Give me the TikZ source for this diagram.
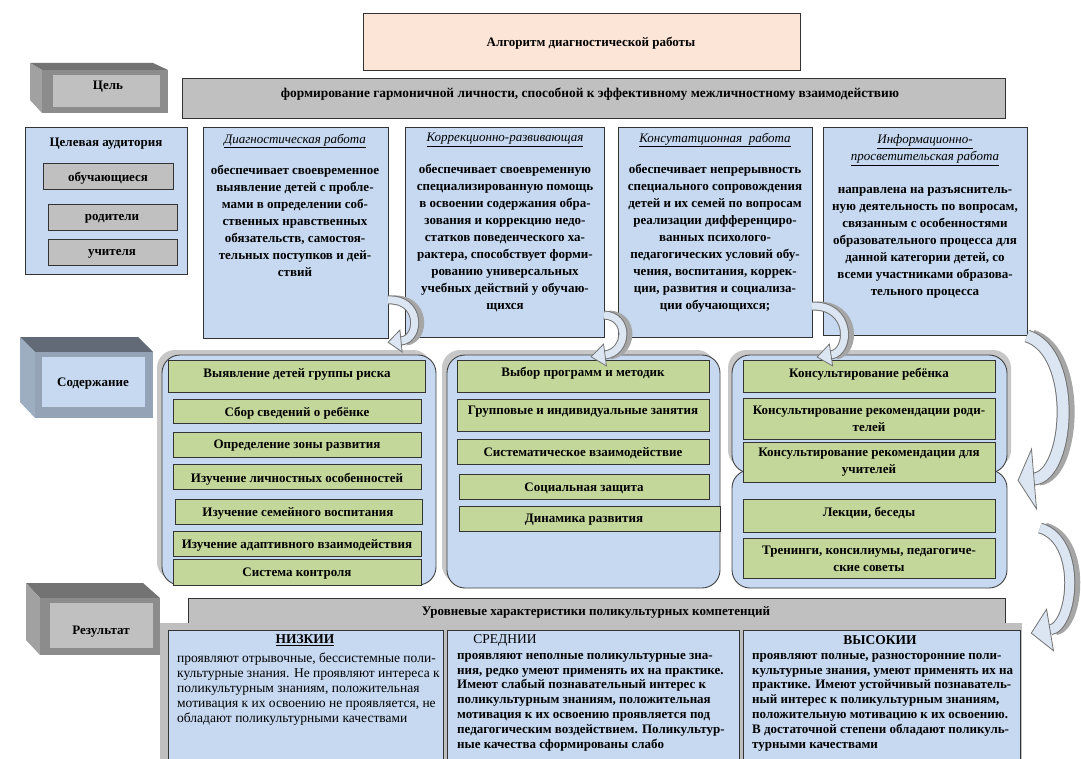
\documentclass[tikz,border=0pt]{standalone}
\usepackage{fontspec}
\setmainfont{Liberation Serif}
\usetikzlibrary{calc,positioning}

\definecolor{paleblue}{HTML}{C6D9F1}
\definecolor{leafgreen}{HTML}{C4D79B}
\definecolor{peach}{HTML}{FCE4D6}
\definecolor{bargray}{HTML}{C0C0C0}
\definecolor{shadegray}{HTML}{A6A6A6}
\definecolor{bandblue}{HTML}{DCE6F2}

\newcommand{\txtfont}{\fontsize{13}{17}\selectfont\bfseries}
\newcommand{\lowfont}{\fontsize{13.5}{14.8}\selectfont}

% box as an empty named node: name, style, x1, y1, x2, y2
\newcommand{\blk}[6]{\node[#2, minimum width={#5-#3}, minimum height={#6-#4}] (#1) at ({(#3+#5)/2},{(#4+#6)/2}) {};}

% curved block arrow: start, c1, c2, end, band width, head half width, head length
\newcommand{\bendarrow}[7]{%
  \draw[draw=shadegray, line width=#5] ([xshift=5]#1) .. controls ([xshift=5]#2) and ([xshift=5]#3) .. ([xshift=5]#4);
  \draw[draw=black!55, line width=#5] (#1) .. controls (#2) and (#3) .. (#4);
  \draw[draw=bandblue, line width={#5-2}] (#1) .. controls (#2) and (#3) .. (#4);
  \filldraw[fill=bandblue, draw=black!55, line width=0.8pt, line join=miter]
    ($(#4)!-#7pt!(#3)$) -- ($(#4)!#6pt!90:(#3)$) -- ($(#4)!#6pt!-90:(#3)$) -- cycle;}

\tikzset{
  boxline/.style={draw=black!80, line width=0.9pt},
  bluebox/.style={boxline, fill=paleblue},
  greybar/.style={boxline, fill=bargray},
  itembox/.style={boxline, fill=leafgreen},
  titlebox/.style={boxline, fill=peach},
  groupbox/.style={draw=black!75, line width=0.9pt, fill=paleblue, rounded corners=18pt},
  groupshade/.style={fill=black!22, rounded corners=18pt},
  coltitle/.style={font=\fontsize{13}{17}\selectfont\itshape},
  coltext/.style={anchor=north},
  lowtext/.style={anchor=north west, align=left, font=\lowfont},
  boldlow/.style={lowtext, font=\fontsize{13}{14.8}\selectfont\bfseries},
}

\begin{document}
\begin{tikzpicture}[x=1pt,y=-1pt]
	% Default action for each node
	\tikzstyle{every node}=[inner sep=0pt, align=center, font=\txtfont];
	\useasboundingbox (0,0) rectangle (1081,759);
	\clip (0,0) rectangle (1081,759);

	% Title and goal
	\blk{title}{titlebox}{363}{13}{800}{70}
	\node (titletext) at (591,43) {Алгоритм диагностической работы};
	\blk{goalbar}{greybar}{182}{78}{1005}{118}
	\node (goaltext) at (590,94) {\fontsize{13.4}{16}\selectfont формирование гармоничной личности, способной к эффективному межличностному взаимодействию};

	% Side blocks
	\fill[black!55] (30,63) -- (153,63) -- (168,70) -- (42,70) -- cycle;
	\fill[black!37] (30,63) -- (42,70) -- (42,113) -- (30,100) -- cycle;
	\fill[black!45] (42,70) rectangle (168,113);
	\fill[bargray] (53,75) rectangle (160,107);
	\node (aim) at (108,87) {Цель};

	\fill[black!30!paleblue!70!black] (20,337) -- (138,337) -- (153,352) -- (35,352) -- cycle;
	\fill[paleblue!80!black] (20,337) -- (35,352) -- (35,418) -- (20,402) -- cycle;
	\fill[paleblue!75!black] (35,352) rectangle (153,418);
	\fill[paleblue] (42,357) rectangle (145,407);
	\node (content) at (93,384) {Содержание};

	\fill[black!55] (26,583) -- (143,583) -- (160,598) -- (40,598) -- cycle;
	\fill[black!37] (26,583) -- (40,598) -- (40,655) -- (26,640) -- cycle;
	\fill[black!45] (40,598) rectangle (160,655);
	\fill[bargray] (50,603) rectangle (153,648);
	\node (result) at (101,632) {Результат};

	% Audience
	\blk{audience}{bluebox}{25}{127}{187}{274}
	\node (audtitle) at (106,144) {Целевая аудитория};
	\blk{pupils}{greybar}{43}{163}{173}{189}
	\node (pupilstext) at (108,178) {обучающиеся};
	\blk{parents}{greybar}{48}{204}{177}{230}
	\node (parentstext) at (112,219) {родители};
	\blk{teachers}{greybar}{48}{239}{177}{265}
	\node (teacherstext) at (112,254) {учителя};

	% Columns
	\blk{diag}{bluebox}{203}{127}{388}{338}
	\node[coltitle] (diagtitle) at (295,141) {\underline{Диагностическая работа}};
	\node[coltext] (diagtext) at (295,165) {обеспечивает своевременное\\выявление детей с пробле-\\мами в определении соб-\\ственных нравственных\\обязательств, самостоя-\\тельных поступков и дей-\\ствий};

	\blk{corr}{bluebox}{405}{127}{604}{337}
	\node[coltitle] (corrtitle) at (505,140) {\underline{Коррекционно-развивающая}};
	\node[coltext] (corrtext) at (505,164) {обеспечивает своевременную\\специализированную помощь\\в освоении содержания обра-\\зования и коррекцию недо-\\статков поведенческого ха-\\рактера, способствует форми-\\рованию универсальных\\учебных действий у обучаю-\\щихся};

	\blk{cons}{bluebox}{618}{127}{812}{337}
	\node[coltitle] (constitle) at (715,140) {\underline{Консутатционная\ \ работа}};
	\node[coltext] (constext) at (715,164) {обеспечивает непрерывность\\специального сопровождения\\детей и их семей по вопросам\\реализации дифференциро-\\ванных психолого-\\педагогических условий обу-\\чения, воспитания, коррек-\\ции, развития и социализа-\\ции обучающихся;};

	\blk{info}{bluebox}{823}{127}{1027}{335}
	\node[coltitle] (infotitle) at (925,150) {\underline{Информационно-}\\\underline{просветительская работа}};
	\node[coltext] (infotext) at (925,187) {направлена на разъяснитель-\\ную деятельность по вопросам,\\связанным с особенностями\\образовательного процесса для\\данной категории детей, со\\всеми участниками образова-\\тельного процесса};

	% Groups
	\fill[groupshade] (157,350) rectangle (431,580);
	\draw[groupbox] (162,355) rectangle (436,585);
	\fill[groupshade] (442,350) rectangle (715,583);
	\draw[groupbox] (447,355) rectangle (720,588);
	\fill[groupshade] (728,350) rectangle (1011,468);
	\draw[groupbox] (732,355) rectangle (1007,473);
	\draw[groupbox] (732,470) rectangle (1007,588);

	\blk{risk}{itembox}{168}{360}{425}{392}
	\node (risktext) at (297,374) {Выявление детей группы риска};
	\blk{facts}{itembox}{173}{399}{421}{423}
	\node (factstext) at (297,413) {Сбор сведений о ребёнке};
	\blk{zone}{itembox}{173}{432}{421}{457}
	\node (zonetext) at (297,446) {Определение зоны развития};
	\blk{traits}{itembox}{173}{464}{421}{489}
	\node (traitstext) at (297,479) {Изучение личностных особенностей};
	\blk{family}{itembox}{175}{499}{422}{524}
	\node (familytext) at (298,513) {Изучение семейного воспитания};
	\blk{adapt}{itembox}{173}{531}{421}{556}
	\node (adapttext) at (297,545) {Изучение адаптивного взаимодействия};
	\blk{control}{itembox}{173}{559}{421}{585}
	\node (controltext) at (297,574) {Система контроля};

	\blk{programs}{itembox}{457}{360}{709}{392}
	\node (programstext) at (583,373) {Выбор программ и методик};
	\blk{lessons}{itembox}{457}{399}{709}{431}
	\node (lessonstext) at (583,412) {Групповые и индивидуальные занятия};
	\blk{system}{itembox}{457}{439}{709}{464}
	\node (systemtext) at (583,453) {Систематическое взаимодействие};
	\blk{social}{itembox}{459}{474}{709}{499}
	\node (socialtext) at (584,488) {Социальная защита};
	\blk{dynamics}{itembox}{459}{506}{720}{531}
	\node (dynamicstext) at (584,520) {Динамика развития};

	\blk{child}{itembox}{743}{360}{995}{392}
	\node (childtext) at (869,374) {Консультирование ребёнка};
	\blk{parentsadv}{itembox}{743}{398}{995}{439}
	\node (parentsadvtext) at (869,419) {Консультирование рекомендации роди-\\телей};
	\blk{teachadv}{itembox}{743}{442}{995}{482}
	\node (teachadvtext) at (869,462) {Консультирование рекомендации для\\учителей};
	\blk{lectures}{itembox}{743}{499}{995}{532}
	\node (lecturestext) at (869,513) {Лекции, беседы};
	\blk{trainings}{itembox}{743}{538}{995}{578}
	\node (trainingstext) at (869,559) {Тренинги, консилиумы, педагогиче-\\ские советы};

	% Results
	\blk{levels}{greybar}{188}{598}{1005}{628}
	\node (levelstext) at (596,612) {Уровневые характеристики поликультурных компетенций};
	\fill[black!25] (160,623) rectangle (1022,770);
	\blk{low}{bluebox}{168}{630}{443}{770}
	\node (lowtitle) at (305,640) {\fontsize{13.5}{16}\selectfont\underline{НИЗКИИ}};
	\node[lowtext] (lowtext) at (177,653) {проявляют отрывочные, бессистемные поли-\\культурные знания. Не проявляют интереса к\\поликультурным знаниям, положительная\\мотивация к их освоению не проявляется, не\\обладают поликультурными качествами};
	\blk{mid}{bluebox}{447}{630}{739}{770}
	\node (midtitle) at (505,640) {\fontsize{13.5}{16}\selectfont\mdseries СРЕДНИИ};
	\node[boldlow] (midtext) at (457,653) {проявляют неполные поликультурные зна-\\ния, редко умеют применять их на практике.\\Имеют слабый познавательный интерес к\\поликультурным знаниям, положительная\\мотивация к их освоению проявляется под\\педагогическим воздействием. Поликультур-\\ные качества сформированы слабо};
	\blk{high}{bluebox}{743}{630}{1020}{770}
	\node (hightitle) at (880,640) {\fontsize{13.5}{16}\selectfont ВЫСОКИИ};
	\node[boldlow] (hightext) at (752,653) {проявляют полные, разносторонние поли-\\культурные знания, умеют применять их на\\практике. Имеют устойчивый познаватель-\\ный интерес к поликультурным знаниям,\\положительную мотивацию к их освоению.\\В достаточной степени обладают поликуль-\\турными качествами};

	% Curved arrows
	\coordinate (a1s) at (388,300); \coordinate (a1c) at (421,298); \coordinate (a1d) at (421,339); \coordinate (a1e) at (401,341);
	\coordinate (a2s) at (604,315); \coordinate (a2c) at (630,316); \coordinate (a2d) at (628,352); \coordinate (a2e) at (605,355);
	\coordinate (a3s) at (812,306); \coordinate (a3c) at (852,305); \coordinate (a3d) at (851,352); \coordinate (a3e) at (831,355);
	\coordinate (a4s) at (1027,336); \coordinate (a4c) at (1078,352); \coordinate (a4d) at (1070,476); \coordinate (a4e) at (1034,479);
	\coordinate (a5s) at (1040,528); \coordinate (a5c) at (1082,540); \coordinate (a5d) at (1074,626); \coordinate (a5e) at (1050,630);
	\bendarrow{a1s}{a1c}{a1d}{a1e}{9}{11}{13}
	\bendarrow{a2s}{a2c}{a2d}{a2e}{9}{11}{14}
	\bendarrow{a3s}{a3c}{a3d}{a3e}{9}{11}{14}
	\bendarrow{a4s}{a4c}{a4d}{a4e}{13}{30}{16}
	\bendarrow{a5s}{a5c}{a5d}{a5e}{11}{21}{19}
\end{tikzpicture}
\end{document}
